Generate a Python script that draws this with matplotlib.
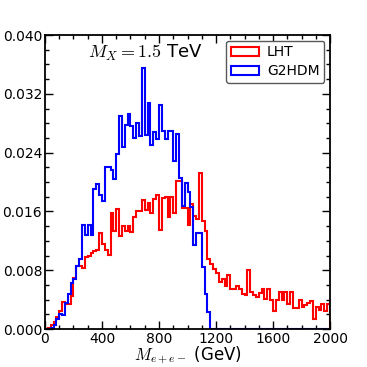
import numpy as np
import matplotlib
matplotlib.use('Agg')
import matplotlib.pyplot as plt
from matplotlib.ticker import MultipleLocator, FormatStrFormatter

plt.rcParams['mathtext.fontset'] = 'cm'

# bin edges in GeV (20 GeV bins, 0 - 2000)
bin_width = 20
edges = np.arange(0, 2000 + bin_width, bin_width)

# normalised distributions, one value per bin
lht = [
    0.0000, 0.0002, 0.0005, 0.0009, 0.0016, 0.0024, 0.0037, 0.0034, 0.0034, 0.0045,
    0.0069, 0.0086, 0.0086, 0.0083, 0.0098, 0.0100, 0.0104, 0.0106, 0.0108, 0.0131,
    0.0115, 0.0107, 0.0101, 0.0158, 0.0133, 0.0163, 0.0126, 0.0140, 0.0133, 0.0140,
    0.0132, 0.0152, 0.0160, 0.0160, 0.0175, 0.0162, 0.0172, 0.0158, 0.0177, 0.0183,
    0.0135, 0.0178, 0.0180, 0.0152, 0.0180, 0.0158, 0.0201, 0.0201, 0.0165, 0.0165,
    0.0142, 0.0170, 0.0154, 0.0150, 0.0212, 0.0147, 0.0133, 0.0095, 0.0088, 0.0082,
    0.0076, 0.0064, 0.0068, 0.0059, 0.0073, 0.0054, 0.0054, 0.0059, 0.0055, 0.0048,
    0.0046, 0.0080, 0.0050, 0.0046, 0.0044, 0.0049, 0.0054, 0.0041, 0.0054, 0.0040,
    0.0025, 0.0040, 0.0050, 0.0039, 0.0050, 0.0034, 0.0050, 0.0028, 0.0028, 0.0040,
    0.0030, 0.0033, 0.0036, 0.0038, 0.0014, 0.0030, 0.0026, 0.0034, 0.0024, 0.0034,
]
g2hdm = [
    0.0000, 0.0000, 0.0002, 0.0005, 0.0013, 0.0020, 0.0019, 0.0035, 0.0047, 0.0062,
    0.0068, 0.0086, 0.0095, 0.0142, 0.0128, 0.0142, 0.0128, 0.0190, 0.0197, 0.0183,
    0.0174, 0.0221, 0.0221, 0.0216, 0.0204, 0.0238, 0.0290, 0.0247, 0.0277, 0.0293,
    0.0276, 0.0260, 0.0280, 0.0262, 0.0355, 0.0264, 0.0307, 0.0250, 0.0268, 0.0258,
    0.0305, 0.0270, 0.0258, 0.0270, 0.0270, 0.0228, 0.0265, 0.0205, 0.0168, 0.0198,
    0.0186, 0.0166, 0.0114, 0.0131, 0.0130, 0.0084, 0.0047, 0.0023, 0.0, 0.0,
] + [0.0] * 40

centers = edges[:-1] + bin_width / 2

fig = plt.figure(figsize=(3.67, 3.67), dpi=100)
ax = fig.add_axes([0.1226, 0.1035, 0.7766, 0.8011])

ax.hist(centers, bins=edges, weights=lht, histtype='step', color='red', lw=1.5, label='LHT')
ax.hist(centers, bins=edges, weights=g2hdm, histtype='step', color='blue', lw=1.5, label='G2HDM')

ax.set_xlim(0, 2000)
ax.set_ylim(0, 0.04)
ax.xaxis.set_major_locator(MultipleLocator(400))
ax.xaxis.set_minor_locator(MultipleLocator(100))
ax.yaxis.set_major_locator(MultipleLocator(0.008))
ax.yaxis.set_minor_locator(MultipleLocator(0.002))
ax.yaxis.set_major_formatter(FormatStrFormatter('%.3f'))
ax.tick_params(which='both', direction='in', top=True, right=True, labelsize=10)
ax.tick_params(axis='x', pad=2)
ax.tick_params(axis='y', pad=2)
ax.tick_params(which='major', length=6, width=1)
ax.tick_params(which='minor', length=3, width=1)
for s in ax.spines.values():
    s.set_linewidth(1.3)

ax.set_xlabel(r'$M_{e+e-}$ (GeV)', fontsize=12, labelpad=-1)
ax.text(0.15, 0.94, r'$M_X = 1.5$ TeV', transform=ax.transAxes, fontsize=13, va='center')

leg = ax.legend(loc='upper right', fontsize=10, fancybox=True, framealpha=1,
                edgecolor='0.35', borderaxespad=0.4, borderpad=0.35,
                handletextpad=0.6, labelspacing=0.35)

fig.savefig('out.png', dpi=100)
